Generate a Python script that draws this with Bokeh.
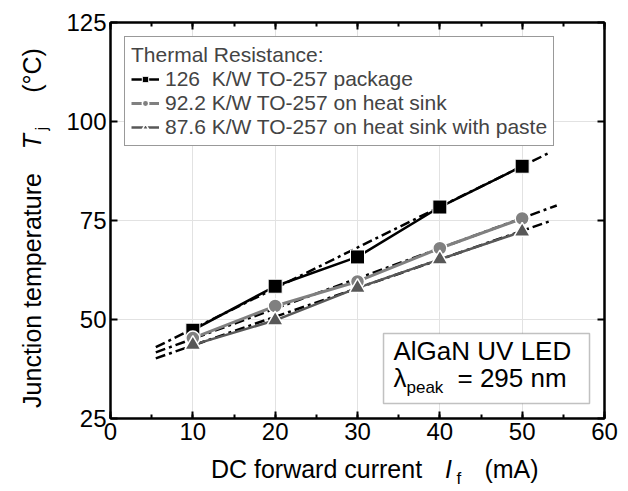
import math
from bokeh.plotting import figure
from bokeh.layouts import row, column
from bokeh.models import (Range1d, LinearAxis, Label, Legend, LegendItem,
                          SingleIntervalTicker, BoxAnnotation, Grid,
                          CustomLabelingPolicy)
from bokeh.embed import file_html
from bokeh.resources import INLINE

# ---------------- data ----------------
current_ma = [10, 20, 30, 40, 50]
tj_package = [47.3, 58.4, 65.8, 78.4, 88.7]
tj_heatsink = [45.3, 53.4, 59.6, 68.0, 75.5]
tj_paste = [43.6, 49.8, 58.0, 65.2, 72.2]

fit_package_x = [5.5, 53.2]
fit_package_y = [43.0, 92.0]
fit_heatsink_x = [5.5, 54.2]
fit_heatsink_y = [41.7, 78.8]
fit_paste_x = [5.5, 53.6]
fit_paste_y = [40.2, 75.0]

legend_labels = ["126  K/W TO-257 package",
                 "92.2 K/W TO-257 on heat sink",
                 "87.6 K/W TO-257 on heat sink with paste"]

FONT = "Liberation Sans"
BASE_FIX = 0.37    # baseline correction for Bokeh's alphabetic anchor (in em)

# page layout (pixels)
YT_W = 56                      # width of the y-title strip
FR_L, FR_R, FR_T, FR_B = 110, 604, 22, 418   # main frame on the page
MAIN_H = 452                   # height of the main figure
XT_H = 491 - MAIN_H            # height of the x-title strip
PX_Y = 100.0 / (FR_B - FR_T)   # data units per pixel (y)

# ---------------- main figure ----------------
p = figure(frame_width=FR_R - FR_L, frame_height=FR_B - FR_T,
           min_border_left=FR_L - YT_W, min_border_right=628 - FR_R,
           min_border_top=FR_T, min_border_bottom=MAIN_H - FR_B,
           x_range=Range1d(0, 60), y_range=Range1d(25, 125),
           output_backend="svg", toolbar_location=None, title=None,
           x_axis_type=None, y_axis_type=None)
p.outline_line_color = "black"
p.outline_line_width = 2
p.background_fill_color = "white"
p.border_fill_color = "white"

hide_labels = CustomLabelingPolicy(code="""
for (const i of Array.from(indices)) indices.unset(i)
return indices
""")


def style_axis(ax, ticker, labels=True):
    ax.ticker = ticker
    ax.axis_line_color = "black"
    ax.axis_line_width = 2
    ax.major_tick_in = 7
    ax.major_tick_out = 0
    ax.minor_tick_in = 4
    ax.minor_tick_out = 0
    ax.major_tick_line_width = 2
    ax.minor_tick_line_width = 2
    ax.major_label_text_font = FONT
    ax.major_label_text_color = "black"
    ax.major_label_standoff = 4
    if labels:
        ax.major_label_text_font_size = "24px"
    else:
        ax.major_label_text_font_size = "0px"
        ax.major_label_standoff = 0
        ax.major_label_policy = hide_labels


xt = SingleIntervalTicker(interval=10, num_minor_ticks=2)
yt = SingleIntervalTicker(interval=25, num_minor_ticks=0)

xb = LinearAxis(); style_axis(xb, xt); p.add_layout(xb, "below")
xa = LinearAxis(); style_axis(xa, SingleIntervalTicker(interval=10, num_minor_ticks=2), False); p.add_layout(xa, "above")
yl = LinearAxis(); style_axis(yl, yt); p.add_layout(yl, "left")
yr = LinearAxis(); style_axis(yr, SingleIntervalTicker(interval=25, num_minor_ticks=0), False); p.add_layout(yr, "right")

p.add_layout(Grid(dimension=0, ticker=xt, grid_line_color="#e2e2e2", grid_line_width=1))
p.add_layout(Grid(dimension=1, ticker=yt, grid_line_color="#e2e2e2", grid_line_width=1))

# fit lines
dash = "10 4 3 4"
p.line(fit_package_x, fit_package_y, line_color="black", line_width=2.5, line_dash=dash)
p.line(fit_heatsink_x, fit_heatsink_y, line_color="black", line_width=2.5, line_dash=dash)
p.line(fit_paste_x, fit_paste_y, line_color="black", line_width=2.5, line_dash=dash)

# data lines + markers
l1 = p.line(current_ma, tj_package, line_color="black", line_width=2.5)
l2 = p.line(current_ma, tj_heatsink, line_color="#808080", line_width=3)
l3 = p.line(current_ma, tj_paste, line_color="#585858", line_width=2.5)
m1 = p.scatter(current_ma, tj_package, marker="square", size=14,
               fill_color="black", line_color="white", line_width=1)
m2 = p.scatter(current_ma, tj_heatsink, marker="circle", size=14,
               fill_color="#808080", line_color="white", line_width=1.5)
m3 = p.scatter(current_ma, tj_paste, marker="triangle", size=16,
               fill_color="#585858", line_color="white", line_width=1.5)

legend = Legend(items=[LegendItem(label=legend_labels[0], renderers=[l1, m1]),
                       LegendItem(label=legend_labels[1], renderers=[l2, m2]),
                       LegendItem(label=legend_labels[2], renderers=[l3, m3])],
                location=(14, 272), title="Thermal Resistance:",
                title_text_font=FONT, title_text_font_size="21px",
                title_text_font_style="normal", title_standoff=0,
                label_text_font=FONT, label_text_font_size="21px",
                glyph_width=28, glyph_height=16, label_height=16,
                label_standoff=6, spacing=0, padding=6, margin=0,
                border_line_color="#333333", border_line_width=1.5,
                background_fill_color="white", background_fill_alpha=1)
p.add_layout(legend, "center")

# annotation box
p.add_layout(BoxAnnotation(left=33.16, right=58.18, bottom=28.79, top=46.46,
                           fill_color="white", fill_alpha=1,
                           line_color="#333333", line_width=1.5))


def lab(fig, x, y, t, size, style="normal", align="left", angle=0.0):
    fig.add_layout(Label(x=x, y=y, text=t, text_font=FONT,
                         text_font_size=f"{size}px", text_font_style=style,
                         text_align=align, text_baseline="alphabetic",
                         angle=angle, text_color="black"))


def plab(px, py, t, size, **kw):
    # page pixel position of the baseline start -> data coordinates of p
    x = (px - FR_L) * 60.0 / (FR_R - FR_L)
    y = 25 + (FR_B - py + BASE_FIX * size) * PX_Y
    lab(p, x, y, t, size, **kw)


plab(393, 360, "AlGaN UV LED", 26)
plab(393, 387, "λ", 26)
plab(406, 393, "peak", 17)
plab(457, 387, "= 295 nm", 26)


def strip(fw, fh, bl, br, bt, bb):
    f = figure(frame_width=fw, frame_height=fh,
               min_border_left=bl, min_border_right=br,
               min_border_top=bt, min_border_bottom=bb,
               x_range=Range1d(0, fw), y_range=Range1d(0, fh),
               output_backend="svg", toolbar_location=None, title=None,
               x_axis_type=None, y_axis_type=None)
    f.outline_line_color = None
    f.grid.visible = False
    f.background_fill_color = "white"
    f.border_fill_color = "white"
    return f


# ---------------- x axis title strip (frame spans page x 110..604) ----------------
xs = strip(FR_R - FR_L, XT_H, FR_L - YT_W, 628 - FR_R, 0, 0)


def xlab(px, py, t, size, **kw):
    lab(xs, px - FR_L, 491 - py + BASE_FIX * size, t, size, **kw)


xlab(316, 478, "DC forward current", 25, align="center")
xlab(448, 478, "I", 25, style="italic", align="center")
xlab(456, 484, "f", 17)
xlab(511, 478, "(mA)", 25, align="center")

# ---------------- y axis title strip (frame spans page y 22..418) ----------------
ys = strip(YT_W, FR_B - FR_T, 0, 0, FR_T, MAIN_H - FR_B)
a = math.pi / 2


def ylab(px, py, t, size, **kw):
    lab(ys, px - BASE_FIX * size, FR_B - py, t, size, angle=a, **kw)


ylab(41, 290, "Junction temperature", 25, align="center")
ylab(41, 141, "T", 25, style="italic", align="center")
ylab(47, 130, "j", 17)
ylab(41, 70, "(°C)", 25, align="center")

layout = row(ys, column(p, xs))
open("out.html", "w").write(file_html(layout, INLINE))
